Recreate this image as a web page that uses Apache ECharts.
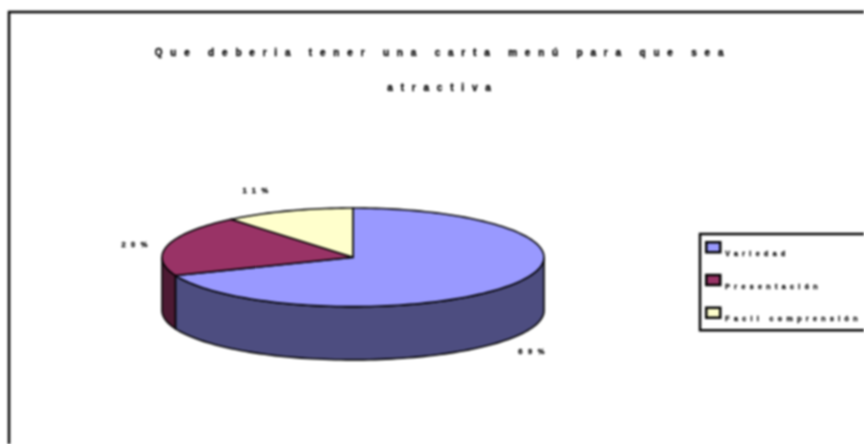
<!DOCTYPE html>
<html>
<head>
<meta charset="utf-8">
<style>
html,body{margin:0;padding:0;background:#fff;overflow:hidden}
#chart{width:864px;height:444px;filter:blur(0.8px)}
#chart text{letter-spacing:4.4px;stroke:#000;stroke-width:.35px}
#chart text[style*="10px"]{letter-spacing:7.8px}
#chart text[style*="7.5px"]{letter-spacing:5.5px}
</style>
<script src="https://cdn.jsdelivr.net/npm/echarts@6/dist/echarts.min.js"></script>
</head>
<body>
<div id="chart"></div>
<script>
const categories = ['Variedad', 'Presentación', 'Facil comprensión'];
const values = [69, 20, 11];
const percentLabels = ['69%', '20%', '11%'];
const titleLines = 'Que deberia tener una carta menú para que sea\n\natractiva';

const topColors = ['#9999FF', '#993366', '#FFFFCC'];
const sideColors = ['#4D4D80', '#4D1A33', '#808066'];
const DEPTH = 1.08;
const labelOffset = [[0.948, -1.9], [-1.13, 0.265], [-0.497, 1.35]];

const total = values.reduce((a, b) => a + b, 0);
let run = 0;
const spans = values.map(v => { const s = run; run += v; return [s / total * 2 * Math.PI, run / total * 2 * Math.PI]; });
const pt = (a, dy) => [Math.sin(a), Math.cos(a) - (dy || 0)];

function arc(a0, a1, dy) {
  const n = Math.max(2, Math.ceil((a1 - a0) / 0.03));
  const out = [];
  for (let i = 0; i <= n; i++) out.push(pt(a0 + (a1 - a0) * i / n, dy));
  return out;
}

function makeRender(idx) {
  return function (params, api) {
    const [a0, a1] = spans[idx];
    const toPx = p => api.coord(p);
    const children = [];
    const s0 = Math.max(a0, Math.PI / 2), s1 = Math.min(a1, 1.5 * Math.PI);
    if (s1 > s0) {
      const side = arc(s0, s1, 0).concat(arc(s0, s1, DEPTH).reverse()).map(toPx);
      children.push({ type: 'polygon', shape: { points: side },
        style: { fill: sideColors[idx], stroke: '#000', lineWidth: 1.6 } });
    }
    const top = [[0, 0]].concat(arc(a0, a1, 0)).map(toPx);
    children.push({ type: 'polygon', shape: { points: top },
      style: { fill: topColors[idx], stroke: '#000', lineWidth: 1.6 } });
    const lp = toPx(labelOffset[idx]);
    children.push({ type: 'text', z2: 10, x: lp[0], y: lp[1],
      style: { text: percentLabels[idx], fill: '#000', align: 'center', verticalAlign: 'middle',
        font: 'bold 7.5px Liberation Sans' } });
    return { type: 'group', children };
  };
}

const chart = echarts.init(document.getElementById('chart'), null, { renderer: 'svg' });
chart.setOption({
  animation: false,
  backgroundColor: '#fff',
  title: {
    text: titleLines, left: 438, top: 39, textAlign: 'center',
    textStyle: { fontFamily: 'Liberation Sans', fontSize: 10, fontWeight: 'bold', color: '#000', lineHeight: 17.5 }
  },
  legend: {
    show: true, orient: 'vertical', left: 700, top: 234,
    padding: [7, 130, 8, 5], itemGap: 17, itemWidth: 14, itemHeight: 10, icon: 'rect',
    borderColor: '#000', borderWidth: 2.5, backgroundColor: '#fff',
    data: categories,
    formatter: name => '{t|' + name + '}',
    textStyle: { rich: { t: { fontFamily: 'Liberation Sans', fontSize: 7, fontWeight: 'bold', color: '#000', padding: [12, 0, 0, 0] } } },
    itemStyle: { borderColor: '#000', borderWidth: 2.5 }
  },
  grid: { left: 162, width: 382, top: 208, height: 151.9, containLabel: false },
  xAxis: { type: 'value', min: -1, max: 1, show: false },
  yAxis: { type: 'value', min: -1 - DEPTH, max: 1, show: false },
  graphic: [{ type: 'rect', silent: true, z: -1, shape: { x: 9, y: 12, width: 950, height: 600 },
    style: { fill: 'none', stroke: '#000', lineWidth: 2.5 } }],
  series: categories.map((name, i) => ({
    name, type: 'custom', coordinateSystem: 'cartesian2d', clip: false,
    renderItem: makeRender(i), data: [[values[i], 0]],
    itemStyle: { color: topColors[i] }, encode: { x: 1, y: 1 }, z: 2 + i
  }))
});
</script>
</body>
</html>
